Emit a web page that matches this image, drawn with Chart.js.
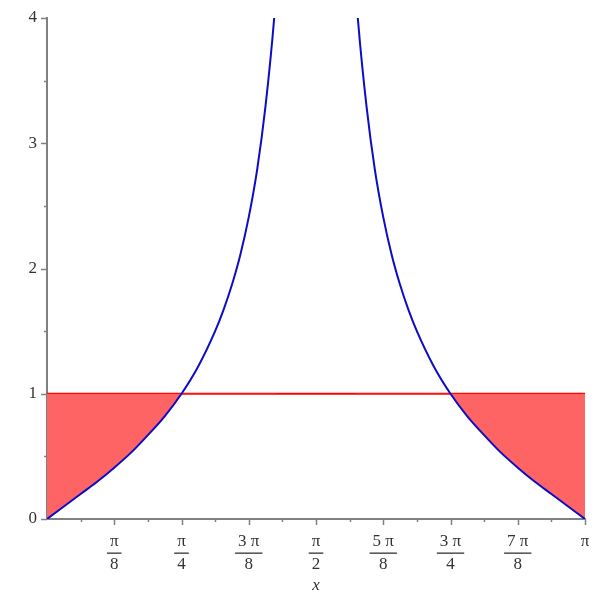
<!DOCTYPE html>
<html>
<head>
<meta charset="utf-8">
<script src="https://cdn.jsdelivr.net/npm/chart.js@4"></script>
<style>
  html, body { margin: 0; padding: 0; background: #fff; }
  #wrap { width: 600px; height: 600px; }
</style>
</head>
<body>
<div id="wrap"><canvas id="myChart"></canvas></div>
<script>
// x is measured in units of pi (0 .. 1)
const xLeft = [0, 0.03125, 0.0625, 0.09375, 0.125, 0.15625, 0.1875, 0.21875, 0.25,
  0.28125, 0.3125, 0.328125, 0.34375, 0.359375, 0.375, 0.390625, 0.40625, 0.421875, 0.425];
const yLeft = [0, 0.10, 0.20, 0.30, 0.41, 0.53, 0.67, 0.82, 1.00,
  1.22, 1.50, 1.67, 1.87, 2.11, 2.41, 2.79, 3.30, 3.98, 4.17];
const xRight = [0.575, 0.578125, 0.59375, 0.609375, 0.625, 0.640625, 0.65625, 0.671875, 0.6875,
  0.71875, 0.75, 0.78125, 0.8125, 0.84375, 0.875, 0.90625, 0.9375, 0.96875, 1];
const yRight = [4.17, 3.98, 3.30, 2.79, 2.41, 2.11, 1.87, 1.67, 1.50,
  1.22, 1.00, 0.82, 0.67, 0.53, 0.41, 0.30, 0.20, 0.10, 0];
const lineX = [0, 1];
const lineY = [1, 1];

const xTicks = [0.125, 0.25, 0.375, 0.5, 0.625, 0.75, 0.875, 1];
const xTickLabels = [["π", "8"], ["π", "4"], ["3 π", "8"], ["π", "2"], ["5 π", "8"], ["3 π", "4"], ["7 π", "8"], ["π"]];
const yTicks = [0, 1, 2, 3, 4];
const yTickLabels = ["0", "1", "2", "3", "4"];

const pts = (xs, ys) => xs.map((x, i) => ({ x: x, y: ys[i] }));
const fillRed = "rgba(255, 100, 100, 1)";
const axisGrey = "#808080";

// draws tick marks + fraction labels (library ticks turned off)
const axisPlugin = {
  id: "axisPlugin",
  afterDraw(chart) {
    const ctx = chart.ctx;
    const xs = chart.scales.x, ys = chart.scales.y;
    const area = chart.chartArea;
    ctx.save();
    ctx.strokeStyle = axisGrey;
    ctx.lineWidth = 1.5;
    // x ticks, major every pi/8, minor every pi/16
    for (let k = 1; k <= 16; k++) {
      const px = Math.round(xs.getPixelForValue(k / 16)) + 0.5;
      const len = k % 2 === 0 ? 6 : 3;
      ctx.beginPath();
      ctx.moveTo(px, area.bottom);
      ctx.lineTo(px, area.bottom + len);
      ctx.stroke();
    }
    // y ticks, major every 1, minor every 0.5
    for (let k = 0; k <= 8; k++) {
      const py = Math.round(ys.getPixelForValue(k / 2)) + 0.5;
      const len = k % 2 === 0 ? 6 : 3;
      ctx.beginPath();
      ctx.moveTo(area.left, py);
      ctx.lineTo(area.left - len, py);
      ctx.stroke();
    }
    ctx.fillStyle = "#333";
    ctx.font = "17px 'Liberation Serif', serif";
    ctx.textBaseline = "middle";
    ctx.textAlign = "right";
    yTicks.forEach((v, i) => {
      ctx.fillText(yTickLabels[i], area.left - 10, ys.getPixelForValue(v));
    });
    ctx.textAlign = "center";
    xTicks.forEach((v, i) => {
      const px = xs.getPixelForValue(v);
      const lab = xTickLabels[i];
      ctx.fillText(lab[0], px, area.bottom + 23);
      if (lab.length > 1) {
        const w = ctx.measureText(lab[0]).width + 6;
        ctx.fillRect(px - w / 2, area.bottom + 33.5, w, 1.3);
        ctx.fillText(lab[1], px, area.bottom + 46);
      }
    });
    ctx.font = "italic 17px 'Liberation Serif', serif";
    ctx.fillText("x", xs.getPixelForValue(0.5), area.bottom + 67);
    ctx.restore();
  }
};

let myChart = document.getElementById("myChart").getContext("2d");
let tanChart = new Chart(myChart, {
  type: "line",
  data: {
    datasets: [
      {
        label: "left",
        data: pts(xLeft, yLeft),
        borderColor: "#0c0cc8",
        borderWidth: 2,
        pointRadius: 0,
        cubicInterpolationMode: "monotone",
        fill: { target: { value: 1 }, above: "rgba(0,0,0,0)", below: fillRed },
      },
      {
        label: "right",
        data: pts(xRight, yRight),
        borderColor: "#0c0cc8",
        borderWidth: 2,
        pointRadius: 0,
        cubicInterpolationMode: "monotone",
        fill: { target: { value: 1 }, above: "rgba(0,0,0,0)", below: fillRed },
      },
      {
        label: "y = 1",
        data: pts(lineX, lineY),
        borderColor: "#ff0000",
        borderWidth: 2,
        pointRadius: 0,
        fill: false,
      },
    ],
  },
  options: {
    responsive: true,
    maintainAspectRatio: false,
    animation: false,
    layout: { padding: { top: 18, right: 15, left: 0, bottom: 0 } },
    scales: {
      x: {
        type: "linear",
        min: 0,
        max: 1,
        ticks: { display: false },
        grid: { display: false },
        border: { display: true, color: axisGrey, width: 2 },
        afterFit: (s) => { s.height = 81; },
      },
      y: {
        min: 0,
        max: 4,
        ticks: { display: false },
        grid: { display: false },
        border: { display: true, color: axisGrey, width: 2 },
        afterFit: (s) => { s.width = 47; },
      },
    },
    plugins: {
      legend: { display: false },
      tooltip: { enabled: false },
    },
  },
  plugins: [axisPlugin],
});
</script>
</body>
</html>
